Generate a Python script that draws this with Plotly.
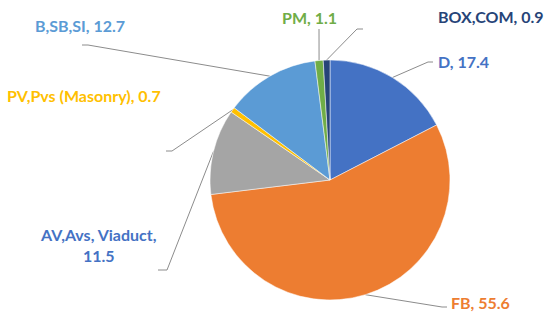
import math
import plotly.graph_objects as go

# Data (percent share per type)
categories = ["D", "FB", "AV,Avs, Viaduct", "PV,Pvs (Masonry)", "B,SB,SI", "PM", "BOX,COM"]
values = [17.4, 55.6, 11.5, 0.7, 12.7, 1.1, 0.9]
slice_colors = ["#4472C4", "#ED7D31", "#A5A5A5", "#FFC000", "#5B9BD5", "#70AD47", "#264478"]
label_colors = ["#4472C4", "#ED7D31", "#4472C4", "#FFC000", "#5B9BD5", "#70AD47", "#264478"]

W, H = 550, 316
# pie placement in pixels
cx, cy, r = 330, 180, 120

# label placement (pixels): x, y, xanchor
label_pos = {
    "D": (436, 61, "left"),
    "FB": (449, 302, "left"),
    "AV,Avs, Viaduct": (98, 245, "center"),
    "PV,Pvs (Masonry)": (5, 95, "left"),
    "B,SB,SI": (33, 25, "left"),
    "PM": (280, 17, "left"),
    "BOX,COM": (436, 16, "left"),
}
# leader line points on the label side (pixels)
elbows = {
    "D": [(433, 62), (428, 62)],
    "FB": [(447, 307), (442, 307)],
    "AV,Avs, Viaduct": [(158, 270), (167, 270)],
    "PV,Pvs (Masonry)": [(166, 151), (172, 151)],
    "B,SB,SI": [(82, 45), (88, 45)],
    "PM": [(319, 29)],
    "BOX,COM": [(363, 29), (357, 29)],
}

fig = go.Figure()

fig.add_trace(go.Pie(
    labels=categories, values=values, sort=False, direction="clockwise",
    rotation=0, textinfo="none", hoverinfo="label+value",
    marker=dict(colors=slice_colors, line=dict(color="white", width=0.5)),
    domain=dict(x=[(cx - r) / W, (cx + r) / W], y=[(H - cy - r) / H, (H - cy + r) / H]),
    showlegend=False,
))

# leader lines: end at each slice's mid angle on the rim
total = sum(values)
cum = 0
for cat, v in zip(categories, values):
    mid = (cum + v / 2) / total * 2 * math.pi
    cum += v
    ax = cx + r * math.sin(mid)
    ay = cy - r * math.cos(mid)
    pts = elbows[cat] + [(ax, ay)]
    fig.add_trace(go.Scatter(
        x=[p[0] for p in pts], y=[p[1] for p in pts], mode="lines",
        line=dict(color="#8C8C8C", width=1), hoverinfo="skip", showlegend=False,
    ))

for cat, v, col in zip(categories, values, label_colors):
    x, y, anchor = label_pos[cat]
    txt = f"{cat}, {v}" if anchor == "left" else f"{cat},<br>{v}"
    fig.add_annotation(
        x=x, y=y, xref="x", yref="y", text=f"<b>{txt}</b>", showarrow=False,
        xanchor=anchor, yanchor="middle", align="center",
        font=dict(family="Lato", size=16, color=col),
    )

fig.update_xaxes(range=[0, W], visible=False, fixedrange=True)
fig.update_yaxes(range=[H, 0], visible=False, fixedrange=True)
fig.update_layout(
    width=W, height=H, margin=dict(l=0, r=0, t=0, b=0),
    paper_bgcolor="white", plot_bgcolor="rgba(0,0,0,0)",
)

# drop the default page margin so the figure sits at the window's corner
fig.write_html("out.html", config={"displayModeBar": False},
               post_script="document.body.style.margin='0';")
